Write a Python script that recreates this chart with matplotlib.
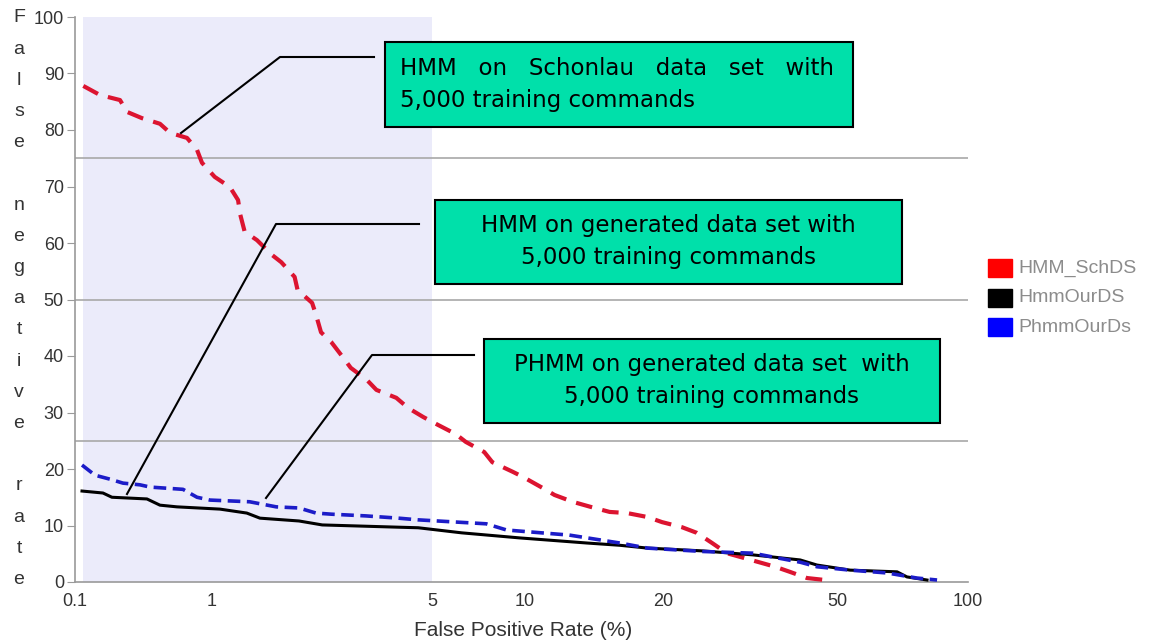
import numpy as np
import matplotlib
matplotlib.use("Agg")
import matplotlib.pyplot as plt
from matplotlib.patches import Rectangle
from matplotlib.lines import Line2D

# ---------- DATA ----------
series_names = ["HMM_SchDS", "HmmOurDS", "PhmmOurDs"]

# HMM on Schonlau data set
fpr_sch = [0.115, 0.152, 0.213, 0.24, 0.308, 0.417, 0.494, 0.657, 0.777, 0.845,
           1.02, 1.14, 1.21, 1.23, 1.27, 1.39, 1.55, 1.66, 1.83, 1.87,
           2.08, 2.14, 2.22, 2.39, 2.62, 2.76, 3.10, 3.33, 3.85, 4.20,
           4.69, 5.23, 5.96, 6.43, 7.38, 7.84, 9.13, 9.85, 10.95, 11.6,
           12.7, 13.9, 15.3, 16.7, 18.5, 19.9, 22.1, 23.9, 25.9, 28.0,
           36.1, 39.0, 42.7, 47.0]
fnr_sch = [87.8, 86.2, 85.3, 83.2, 82.1, 81.1, 79.5, 78.6, 76.5, 74.2,
           71.7, 69.9, 67.6, 65.0, 62.0, 60.5, 57.9, 56.6, 54.0, 51.7,
           49.4, 47.3, 44.2, 42.5, 39.6, 37.9, 35.8, 34.0, 32.6, 30.8,
           29.2, 27.8, 26.2, 24.8, 23.0, 21.2, 19.5, 18.6, 16.6, 15.4,
           14.2, 13.3, 12.4, 12.2, 11.5, 10.6, 9.7, 8.7, 6.9, 5.1,
           2.7, 1.8, 0.7, 0.35]

# HMM on generated data set
fpr_hmm = [0.1125, 0.16, 0.186, 0.335, 0.417, 0.555, 1.06, 1.29, 1.42, 1.89,
           2.24, 3.91, 4.52, 6.24, 9.63, 13.65, 16.1, 18.5, 24.7, 32.1,
           41.2, 45.0, 53.6, 68.7, 72.4, 80.5]
fnr_hmm = [16.1, 15.75, 15.0, 14.7, 13.6, 13.3, 12.9, 12.2, 11.3, 10.8,
           10.1, 9.7, 9.6, 8.7, 7.8, 6.9, 6.5, 6.0, 5.5, 4.8,
           3.9, 3.0, 2.1, 1.8, 0.9, 0.35]

# PHMM on generated data set
fpr_phmm = [0.1125, 0.14, 0.18, 0.224, 0.298, 0.353, 0.614, 0.777, 0.967, 1.317,
            1.60, 1.89, 2.14, 2.40, 3.08, 3.91, 4.52, 7.49, 8.72, 12.5,
            16.1, 18.5, 24.7, 32.1, 41.2, 45.0, 53.6, 65.2, 76.3, 84.9]
fnr_phmm = [20.7, 18.9, 18.2, 17.5, 17.2, 16.8, 16.4, 15.0, 14.5, 14.2,
            13.3, 13.1, 12.2, 12.0, 11.7, 11.3, 11.0, 10.3, 9.2, 8.3,
            6.9, 6.0, 5.4, 5.1, 3.5, 2.7, 2.1, 1.6, 0.7, 0.35]

x_ticks = [0.1, 1, 5, 10, 20, 50, 100]
x_tick_labels = ["0.1", "1", "5", "10", "20", "50", "100"]
y_ticks = list(range(0, 101, 10))
ref_levels = [25, 50, 75]
shade_range = (0.114, 5)

box_texts = [
    ("HMM   on   Schonlau   data   set   with", "5,000 training commands"),
    ("HMM on generated data set with", "5,000 training commands"),
    ("PHMM on generated data set  with", "5,000 training commands"),
]

# ---------- LAYOUT (pixels) ----------
W, H = 1157, 641
def fx(px): return px / W
def fy(py): return 1 - py / H

# the x axis of the original is not a clean log axis, so the scale
# is interpolated (in log space) between the tick positions
x_tick_px = [75, 212, 432, 525, 663, 837, 968]
def fwd(x):
    x = np.clip(np.asarray(x, dtype=float), 1e-3, None)
    return np.interp(np.log10(x), np.log10(x_ticks), x_tick_px)
def inv(p):
    return 10 ** np.interp(p, x_tick_px, np.log10(x_ticks))

plt.rcParams['font.family'] = ['Liberation Sans', 'DejaVu Sans']

fig = plt.figure(figsize=(W / 100, H / 100), dpi=100)
ax = fig.add_axes([fx(75), fy(582), (968 - 75) / W, (582 - 17) / H])
ax.set_xscale('function', functions=(fwd, inv))
ax.set_xlim(0.1, 100)
ax.set_ylim(0, 100)

ax.axvspan(*shade_range, color='#EBEBFA', lw=0, zorder=0)
for lv in ref_levels:
    ax.axhline(lv, color='#A8A8A8', lw=1.2, zorder=1)

ax.plot(fpr_sch, fnr_sch, color='#DC1430', lw=3, dashes=(4, 2.5), zorder=3)
ax.plot(fpr_hmm, fnr_hmm, color='black', lw=2.2, zorder=4)
ax.plot(fpr_phmm, fnr_phmm, color='#1C1CC8', lw=2.6, dashes=(3.5, 1.8), zorder=5)

for s in ['top', 'right']:
    ax.spines[s].set_visible(False)
for s in ['left', 'bottom']:
    ax.spines[s].set_color('#9A9A9A')
    ax.spines[s].set_linewidth(1.2)

ax.set_xticks(x_ticks, labels=x_tick_labels)
ax.set_yticks(y_ticks)
ax.minorticks_off()
ax.tick_params(axis='x', length=0, pad=8, labelsize=13, labelcolor='#333333')
ax.tick_params(axis='y', length=6, color='#9A9A9A', pad=2, labelsize=13, labelcolor='#333333')

# stacked y label, one letter per line
ylab = "False negative rate"
for i, ch in enumerate(ylab):
    fig.text(fx(19), fy(18 + i * 31.2), ch, ha='center', va='center',
             fontsize=14, color='#333333')

fig.text(fx(523), fy(630), "False Positive Rate (%)", ha='center', va='center',
         fontsize=15, color='#333333')

# legend
legend_colors = ['#FF0000', '#000000', '#0000FF']
for i, (name, c) in enumerate(zip(series_names, legend_colors)):
    yc = 268 + i * 29.5
    fig.patches.append(Rectangle((fx(988), fy(yc + 9)), 24 / W, 18 / H,
                                 transform=fig.transFigure, color=c))
    fig.text(fx(1018), fy(yc), name, va='center', fontsize=14, color='#8C8C8C')

# annotation boxes
boxes = [(385, 42, 853, 127), (435, 200, 902, 284), (484, 339, 940, 423)]
leaders = [[(374, 57), (280, 57), (181, 133)],
           [(419, 224), (276, 224), (127, 494)],
           [(474, 355), (372, 355), (266, 498)]]

for k, ((x0, y0, x1, y1), (l1, l2)) in enumerate(zip(boxes, box_texts)):
    fig.patches.append(Rectangle((fx(x0), fy(y1)), (x1 - x0) / W, (y1 - y0) / H,
                                 transform=fig.transFigure, facecolor='#00E0AA',
                                 edgecolor='black', lw=1.5, zorder=10))
    yc = (y0 + y1) / 2
    if k == 0:
        xt, ha = x0 + 15, 'left'
    else:
        xt, ha = (x0 + x1) / 2, 'center'
    fig.text(fx(xt), fy(yc - 16), l1, ha=ha, va='center', fontsize=16.5,
             family='DejaVu Sans', zorder=11)
    fig.text(fx(xt), fy(yc + 16), l2, ha=ha, va='center', fontsize=16.5,
             family='DejaVu Sans', zorder=11)

for pts in leaders:
    xs = [fx(p[0]) for p in pts]
    ys = [fy(p[1]) for p in pts]
    fig.lines.append(Line2D(xs, ys, transform=fig.transFigure, color='black', lw=1.5, zorder=9))

fig.savefig("out.png", dpi=100)
